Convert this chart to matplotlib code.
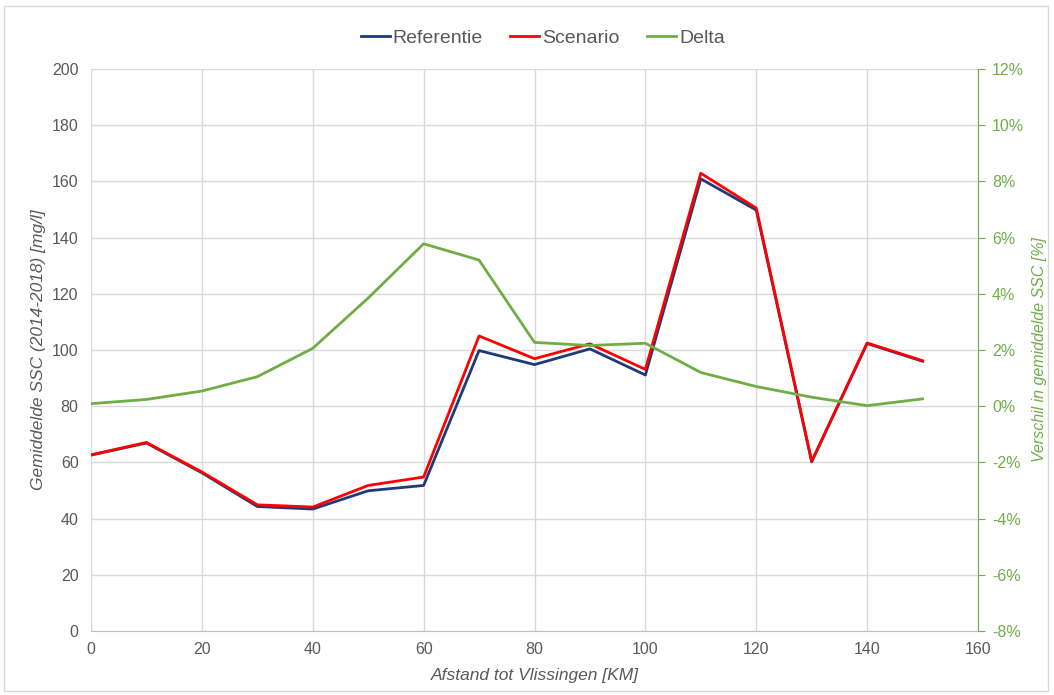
import matplotlib.pyplot as plt
from matplotlib.ticker import FuncFormatter, MultipleLocator
from matplotlib.patches import Rectangle

plt.rcParams['font.family'] = ['Liberation Sans', 'DejaVu Sans']

# data
afstand = [0, 10, 20, 30, 40, 50, 60, 70, 80, 90, 100, 110, 120, 130, 140, 150]
referentie = [62.6, 66.9, 56.3, 44.3, 43.4, 49.9, 51.8, 99.8, 94.8, 100.4, 91.1,
              160.9, 149.8, 60.2, 102.3, 96.0]
scenario = [62.7, 67.1, 56.6, 44.9, 44.1, 51.8, 54.8, 105.0, 96.9, 102.2, 93.1,
            162.9, 150.5, 60.4, 102.5, 96.2]
delta = [0.09, 0.24, 0.54, 1.05, 2.06, 3.85, 5.78, 5.2, 2.27, 2.16, 2.24,
         1.2, 0.7, 0.32, 0.02, 0.26]

GRAY = '#595959'
GREEN = '#70AD47'
GRID = '#D9D9D9'

fig = plt.figure(figsize=(10.54, 6.95), dpi=100)
ax = fig.add_axes([91/1054, 1-631/695, (978-91)/1054, (631-69)/695])
ax2 = ax.twinx()

l1, = ax.plot(afstand, referentie, color='#1F3A7A', lw=2, label='Referentie', zorder=3)
l2, = ax.plot(afstand, scenario, color='#FF0000', lw=2, label='Scenario', zorder=4)
l3, = ax2.plot(afstand, delta, color=GREEN, lw=2, label='Delta')

ax.set_xlim(0, 160)
ax.set_ylim(0, 200)
ax.xaxis.set_major_locator(MultipleLocator(20))
ax.yaxis.set_major_locator(MultipleLocator(20))
ax.grid(True, color=GRID, lw=1)
ax.set_axisbelow(True)

ax2.set_ylim(-8, 12)
ax2.yaxis.set_major_locator(MultipleLocator(2))
ax2.yaxis.set_major_formatter(FuncFormatter(lambda v, p: '%d%%' % round(v)))

for s in ['top', 'left', 'right']:
    ax.spines[s].set_visible(False)
ax.spines['bottom'].set_color('#BFBFBF')
for s in ['top', 'left', 'bottom']:
    ax2.spines[s].set_visible(False)
ax2.spines['right'].set_color(GREEN)

ax.tick_params(axis='both', length=0, labelsize=11.5, colors=GRAY, pad=8)
ax.tick_params(axis='y', pad=9)
ax2.tick_params(axis='y', length=5, color=GREEN, labelcolor=GREEN, labelsize=11.5, pad=5)

ax.set_xlabel('Afstand tot Vlissingen [KM]', fontsize=12.5, style='italic', color=GRAY, labelpad=8)
ax.set_ylabel('Gemiddelde SSC (2014-2018) [mg/l]', fontsize=12.5, style='italic', color=GRAY, labelpad=4)
ax2.set_ylabel('Verschil in gemiddelde SSC [%]', fontsize=11.5, style='italic', color=GREEN, labelpad=6)

fig.legend(handles=[l1, l2, l3], loc='center', bbox_to_anchor=(0.515, 1 - 38/695),
           ncol=3, frameon=False, fontsize=14, labelcolor=GRAY,
           handlelength=1.5, handletextpad=0.15, columnspacing=1.4)

fig.patches.append(Rectangle((4/1054, 4/695), 1-10/1054, 1-10/695, transform=fig.transFigure,
                             fill=False, edgecolor='#D9D9D9', lw=1))

fig.savefig('out.png', dpi=100)
